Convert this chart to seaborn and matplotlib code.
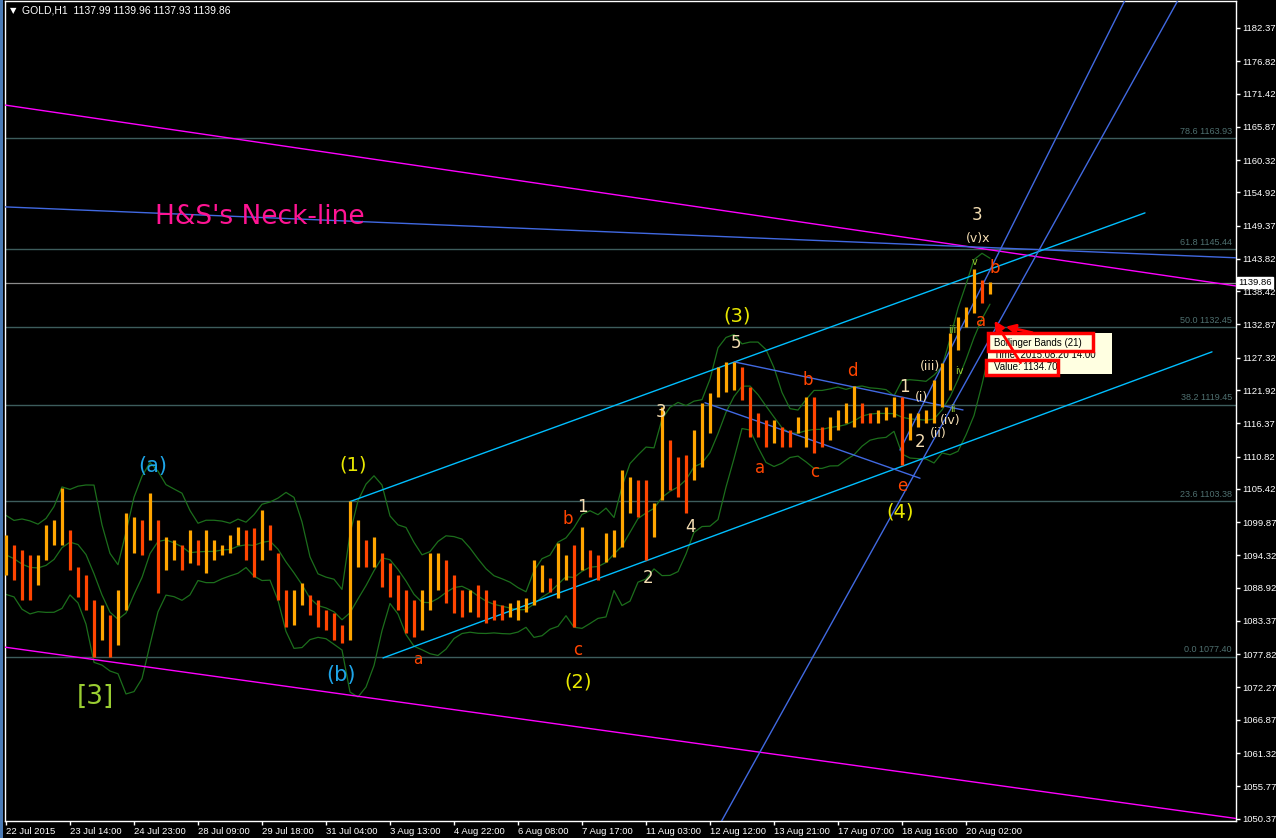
import numpy as np
import pandas as pd
import matplotlib
matplotlib.use("Agg")
import matplotlib.pyplot as plt
import matplotlib.transforms as mtransforms
from matplotlib.patches import Rectangle
import seaborn as sns

# H4-style bars (one bar per 4 hourly bars)
bar_high = [1097.7, 1096.1, 1095.2, 1094.4, 1094.4, 1099.4, 1100.2, 1105.6, 1098.6, 1092.4,
            1091.1, 1086.9, 1086.0, 1084.4, 1088.6, 1101.4, 1100.7, 1100.2, 1104.7, 1100.2,
            1097.4, 1096.9, 1096.1, 1098.6, 1096.9, 1098.6, 1096.9, 1096.1, 1097.7, 1099.1,
            1098.6, 1098.9, 1101.9, 1099.4, 1094.7, 1088.6, 1088.6, 1089.7, 1087.7, 1086.9,
            1085.2, 1084.7, 1082.7, 1103.4, 1100.2, 1096.9, 1097.4, 1094.7, 1093.1, 1091.1,
            1088.6, 1086.9, 1088.6, 1094.7, 1094.7, 1093.6, 1091.1, 1088.6, 1088.6, 1089.4,
            1088.6, 1086.9, 1086.0, 1086.4, 1086.9, 1087.2, 1093.6, 1092.7, 1090.6, 1096.4,
            1094.4, 1096.1, 1099.1, 1095.2, 1094.4, 1098.1, 1098.6, 1108.6, 1107.4, 1106.9,
            1106.9, 1103.1, 1119.1, 1113.6, 1110.8, 1111.1, 1115.3, 1119.8, 1121.4, 1125.8,
            1126.6, 1126.6, 1125.8, 1122.4, 1118.1, 1116.9, 1116.9, 1115.8, 1115.3, 1117.4,
            1120.8, 1120.8, 1115.8, 1117.4, 1118.6, 1119.8, 1122.6, 1119.8, 1118.1, 1118.6,
            1119.1, 1120.8, 1120.8, 1118.1, 1118.1, 1118.6, 1123.6, 1126.4, 1131.5, 1134.1,
            1135.8, 1142.1, 1140.3, 1139.96]
bar_low = [1091.1, 1090.2, 1086.9, 1086.9, 1089.4, 1093.6, 1096.1, 1096.1, 1091.9, 1087.4,
           1085.2, 1077.4, 1080.2, 1077.4, 1079.4, 1085.2, 1094.7, 1094.4, 1096.9, 1088.0,
           1091.9, 1093.6, 1091.9, 1093.1, 1092.7, 1091.4, 1093.6, 1094.4, 1094.7, 1096.1,
           1093.6, 1090.7, 1093.6, 1095.2, 1086.9, 1082.4, 1082.7, 1086.0, 1084.4, 1082.4,
           1081.9, 1080.2, 1079.7, 1080.2, 1092.4, 1092.4, 1092.4, 1089.1, 1087.4, 1085.2,
           1081.4, 1080.7, 1081.9, 1085.2, 1088.6, 1086.4, 1084.7, 1084.0, 1084.9, 1084.0,
           1083.0, 1083.5, 1083.5, 1084.0, 1083.5, 1084.9, 1086.0, 1088.2, 1088.2, 1087.2,
           1090.2, 1082.4, 1091.9, 1090.7, 1090.2, 1093.2, 1094.1, 1095.7, 1101.4, 1100.7,
           1093.6, 1097.4, 1103.6, 1105.2, 1104.1, 1101.4, 1106.9, 1109.1, 1114.8, 1120.8,
           1121.6, 1121.9, 1120.3, 1114.1, 1114.1, 1112.4, 1113.1, 1112.4, 1112.4, 1114.8,
           1112.4, 1111.4, 1112.4, 1113.6, 1115.3, 1116.4, 1115.8, 1116.4, 1116.4, 1116.4,
           1116.9, 1117.4, 1109.4, 1113.6, 1115.8, 1116.4, 1116.4, 1119.1, 1121.9, 1128.6,
           1132.5, 1134.8, 1136.5, 1137.93]

price_ticks = [1182.37, 1176.82, 1171.42, 1165.87, 1160.32, 1154.92, 1149.37, 1143.82,
               1138.42, 1132.87, 1127.32, 1121.92, 1116.37, 1110.82, 1105.42, 1099.87,
               1094.32, 1088.92, 1083.37, 1077.82, 1072.27, 1066.87, 1061.32, 1055.77, 1050.37]
time_labels = ["22 Jul 2015", "23 Jul 14:00", "24 Jul 23:00", "28 Jul 09:00", "29 Jul 18:00",
               "31 Jul 04:00", "3 Aug 13:00", "4 Aug 22:00", "6 Aug 08:00", "7 Aug 17:00",
               "11 Aug 03:00", "12 Aug 12:00", "13 Aug 21:00", "17 Aug 07:00", "18 Aug 16:00",
               "20 Aug 02:00"]

fib_names = ["78.6", "61.8", "50.0", "38.2", "23.6", "0.0"]
fib_levels = [1163.93, 1145.44, 1132.45, 1119.45, 1103.38, 1077.40]
last_price = 1139.86

# trendlines: (x0, p0, x1, p1, colour) with x in hourly bar index
trendlines = [
    (-0.5, 1169.5, 615, 1139.3, "#ff00ff"),
    (-0.5, 1079.0, 615, 1050.4, "#ff00ff"),
    (-0.5, 1152.5, 615, 1144.0, "#4169e1"),
    (172, 1103.3, 569.5, 1151.5, "#00bfff"),
    (188.5, 1077.2, 603, 1128.3, "#00bfff"),
    (364.5, 1126.6, 478.5, 1118.6, "#4169e1"),
    (349.5, 1119.8, 457, 1107.2, "#4169e1"),
    (447, 1111.9, 559.5, 1187.0, "#4169e1"),
    (353, 1047.1, 586, 1187.0, "#4169e1"),
]

# wave labels: (text, x, price, colour, size)
wave_labels = [
    ("(a)", 73.5, 1109.3, "#1ea5e8", 15), ("(b)", 167.5, 1074.4, "#1ea5e8", 15),
    ("(1)", 173.5, 1109.4, "#e8e800", 14), ("(2)", 286, 1073.2, "#e8e800", 14),
    ("(3)", 365.5, 1134.3, "#e8e800", 14), ("(4)", 447, 1101.6, "#e8e800", 14),
    ("[3]", 44.5, 1070.7, "#9acd32", 19),
    ("a", 206, 1076.9, "#ff4500", 11), ("b", 281, 1100.4, "#ff4500", 12),
    ("c", 286, 1078.5, "#ff4500", 12), ("a", 377, 1108.9, "#ff4500", 12),
    ("b", 401, 1123.6, "#ff4500", 12), ("c", 404.5, 1108.2, "#ff4500", 12),
    ("d", 423, 1125.1, "#ff4500", 12), ("e", 448, 1105.9, "#ff4500", 12),
    ("a", 487.5, 1133.5, "#ff4500", 12), ("b", 494.5, 1142.3, "#ff4500", 12),
    ("1", 288, 1102.4, "#f5deb3", 12), ("2", 321, 1090.6, "#f5deb3", 12),
    ("3", 327.5, 1118.3, "#f5deb3", 12), ("4", 342, 1099.1, "#f5deb3", 12),
    ("5", 365, 1129.8, "#f5deb3", 12), ("1", 449, 1122.4, "#f5deb3", 12),
    ("2", 457, 1113.3, "#f5deb3", 12), ("3", 485.5, 1151.2, "#f5deb3", 12),
    ("(i)", 458, 1120.6, "#f5deb3", 9), ("(ii)", 466, 1114.6, "#f5deb3", 9),
    ("(iii)", 462, 1125.8, "#f5deb3", 9), ("(iv)", 472, 1116.8, "#f5deb3", 9),
    ("(v)x", 486, 1147.3, "#f5deb3", 9),
    ("v", 484.5, 1143.3, "#9acd32", 7), ("iii", 473, 1132.0, "#9acd32", 7),
    ("iv", 476.5, 1125.1, "#9acd32", 7), ("ii", 473.5, 1118.8, "#9acd32", 7),
]

UI_FONT = ["Liberation Sans", "DejaVu Sans"]


def bollinger(highs, lows, window=5):
    mid = (np.array(highs) + np.array(lows)) / 2
    ma = pd.Series(mid).rolling(window, min_periods=1).mean().values
    sd = []
    for i in range(len(mid)):
        lo = max(0, i - window + 1)
        vals = np.concatenate([highs[lo:i + 1], lows[lo:i + 1]])
        sd.append(np.std(vals))
    sd = np.array(sd)
    return ma, ma + 2 * sd, ma - 2 * sd


def main():
    sns.set_theme(style="dark", rc={"axes.facecolor": "black", "figure.facecolor": "black",
                                    "axes.edgecolor": "white", "text.color": "white",
                                    "xtick.color": "white", "ytick.color": "white"})
    plt.rcParams["font.family"] = ["DejaVu Sans"]

    fig = plt.figure(figsize=(12.76, 8.38), dpi=100)
    ax = fig.add_axes([5 / 1276, 17 / 838, 1231 / 1276, 820 / 838])
    ax.set_facecolor("black")

    xs = np.arange(len(bar_high)) * 4
    highs = np.array(bar_high)
    lows = np.array(bar_low)
    mids = (highs + lows) / 2

    # bollinger bands (21) in dark green
    ma, up, dn = bollinger(highs, lows)
    for band in (ma, up, dn):
        sns.lineplot(x=xs, y=band, ax=ax, color="#1c6e1c", lw=0.9, zorder=2)

    # fib levels and current price
    for name, lvl in zip(fib_names, fib_levels):
        ax.axhline(lvl, color="#3d5c5c", lw=1, zorder=1)
        ax.text(613, lvl + 0.4, f"{name} {lvl:.2f}", color="#4f7070", fontsize=6.5,
                ha="right", va="bottom", family=UI_FONT)
    ax.axhline(last_price, color="#8c8c8c", lw=0.9, zorder=1)

    for x0, p0, x1, p1, c in trendlines:
        ax.plot([x0, x1], [p0, p1], color=c, lw=1, zorder=3)

    # bars
    colors = ["#ffa500" if i == 0 or mids[i] >= mids[i - 1] else "#ff4500"
              for i in range(len(mids))]
    ax.vlines(xs, lows, highs, colors=colors, lw=2.3, zorder=4)

    for txt, x, p, c, s in wave_labels:
        ax.text(x, p, txt, color=c, fontsize=s, ha="center", va="center", zorder=6)
    ax.text(74.5, 1150.8, "H&S's Neck-line", color="#ff1493", fontsize=19,
            ha="left", va="center", zorder=6)

    # tooltip
    ax.add_patch(Rectangle((491, 1124.6), 62, 6.85, facecolor="#ffffe1",
                           edgecolor="none", zorder=7))
    ax.text(494, 1129.85, "Bollinger Bands (21)", color="black", fontsize=7, va="center",
            zorder=8, family=UI_FONT)
    ax.text(494, 1127.7, "Time: 2015.08.20 14:00", color="black", fontsize=7, va="center",
            zorder=8, family=UI_FONT)
    ax.text(494, 1125.7, "Value: 1134.70", color="black", fontsize=7, va="center",
            zorder=8, family=UI_FONT)
    ax.add_patch(Rectangle((491, 1128.5), 52.5, 2.9, fill=False, edgecolor="red",
                           lw=2.5, zorder=9))
    ax.add_patch(Rectangle((490, 1124.4), 36, 2.5, fill=False, edgecolor="red",
                           lw=2.5, zorder=9))
    ax.annotate("", xy=(493.5, 1133.9), xytext=(508, 1126.1),
                arrowprops=dict(arrowstyle="-|>", color="red", lw=2, mutation_scale=14), zorder=9)
    ax.annotate("", xy=(498.5, 1132.6), xytext=(514.5, 1131.4),
                arrowprops=dict(arrowstyle="-|>", color="red", lw=2, mutation_scale=14), zorder=9)

    # header
    ax.text(0.004, 0.988, "\u25bc", transform=ax.transAxes, color="white", fontsize=6,
            va="center")
    ax.text(0.014, 0.988, "GOLD,H1  1137.99 1139.96 1137.93 1139.86", transform=ax.transAxes,
            color="white", fontsize=7.5, va="center", family=UI_FONT)

    # axes
    ax.set_xlim(-0.5, 615)
    ax.set_ylim(1049.98, 1186.87)
    ax.yaxis.tick_right()
    ax.set_yticks(price_ticks)
    ax.set_yticklabels([f"{t:.2f}" for t in price_ticks])
    ax.set_xticks(np.arange(len(time_labels)) * 32)
    ax.set_xticklabels(time_labels, ha="left")
    ax.tick_params(axis="both", length=3, width=1, labelsize=6.8, pad=1.5, colors="white",
                   direction="out", bottom=True, right=True)
    for lab in ax.get_xticklabels() + ax.get_yticklabels():
        lab.set_family(UI_FONT)
    ax.grid(False)
    for sp in ax.spines.values():
        sp.set_color("white")
        sp.set_linewidth(1)
    ax.set_xlabel("")
    ax.set_ylabel("")

    trans = mtransforms.blended_transform_factory(ax.transAxes, ax.transData)
    ax.text(1.002, last_price, "1139.86", transform=trans, color="black", fontsize=6.8,
            ha="left", va="center", family=UI_FONT,
            bbox=dict(facecolor="white", edgecolor="white", pad=0.8), zorder=10)

    fig.add_artist(Rectangle((0, 0), 3 / 1276, 1, transform=fig.transFigure,
                             facecolor="#4a7ab5", edgecolor="none"))

    fig.savefig("out.png", dpi=100, facecolor="black")


if __name__ == "__main__":
    main()
